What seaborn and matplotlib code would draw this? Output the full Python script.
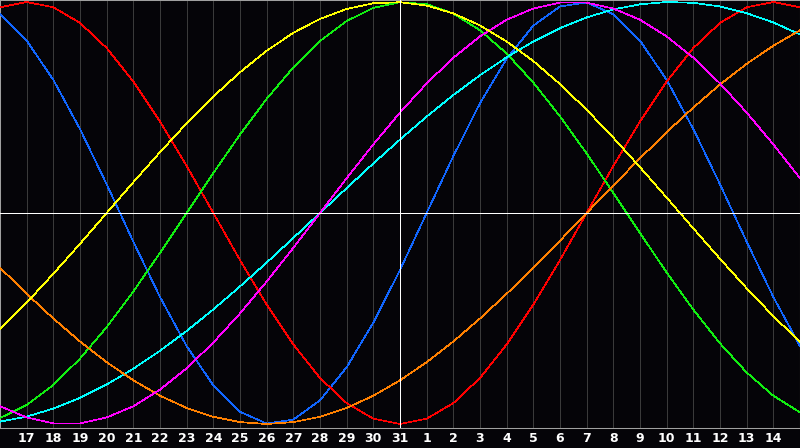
import matplotlib
matplotlib.use("Agg")
import matplotlib.pyplot as plt
import pandas as pd
import seaborn as sns

# Day offsets relative to the marked day (31); -15 and 15 are the plot edges
offsets = list(range(-15, 16))
tick_offsets = list(range(-14, 15))
tick_labels = [str(d) for d in range(17, 32)] + [str(d) for d in range(1, 15)]

# Curve values (range -1 .. 1) at each day
physical = [0.942, 0.817, 0.631, 0.398, 0.136, -0.136, -0.398, -0.631, -0.817, -0.942,
            -0.998, -0.979, -0.888, -0.731, -0.520, -0.270, 0.000, 0.270, 0.520, 0.731,
            0.888, 0.979, 0.998, 0.942, 0.817, 0.631, 0.398, 0.136, -0.136, -0.398, -0.631]
emotional = [0.975, 1.000, 0.975, 0.901, 0.782, 0.623, 0.434, 0.223, 0.000, -0.223,
             -0.434, -0.623, -0.782, -0.901, -0.975, -1.000, -0.975, -0.901, -0.782, -0.623,
             -0.434, -0.223, 0.000, 0.223, 0.434, 0.623, 0.782, 0.901, 0.975, 1.000, 0.975]
intellectual = [-0.972, -0.910, -0.815, -0.690, -0.541, -0.372, -0.189, 0.000, 0.189, 0.372,
                0.541, 0.690, 0.815, 0.910, 0.972, 0.999, 0.990, 0.945, 0.866, 0.756,
                0.618, 0.458, 0.282, 0.095, -0.095, -0.282, -0.458, -0.618, -0.756, -0.866, -0.945]
intuitive = [-0.916, -0.969, -0.997, -0.997, -0.969, -0.916, -0.837, -0.736, -0.614, -0.476,
             -0.325, -0.165, 0.000, 0.165, 0.325, 0.476, 0.614, 0.736, 0.837, 0.916,
             0.969, 0.997, 0.997, 0.969, 0.916, 0.837, 0.736, 0.614, 0.476, 0.325, 0.165]
aesthetic = [-0.552, -0.425, -0.288, -0.146, 0.000, 0.146, 0.288, 0.425, 0.552, 0.667,
             0.769, 0.854, 0.920, 0.967, 0.994, 0.999, 0.983, 0.946, 0.889, 0.813,
             0.720, 0.611, 0.489, 0.357, 0.217, 0.073, -0.073, -0.217, -0.357, -0.489, -0.611]
awareness = [-0.259, -0.383, -0.500, -0.609, -0.707, -0.793, -0.866, -0.924, -0.966, -0.991,
             -1.000, -0.991, -0.966, -0.924, -0.866, -0.793, -0.707, -0.609, -0.500, -0.383,
             -0.259, -0.131, 0.000, 0.131, 0.259, 0.383, 0.500, 0.609, 0.707, 0.793, 0.866]
spiritual = [-0.989, -0.965, -0.927, -0.876, -0.813, -0.738, -0.653, -0.559, -0.457, -0.348,
             -0.235, -0.118, 0.000, 0.118, 0.235, 0.348, 0.457, 0.559, 0.653, 0.738,
             0.813, 0.876, 0.927, 0.965, 0.989, 1.000, 0.996, 0.979, 0.947, 0.903, 0.846]

series = {
    "Physical": physical,
    "Emotional": emotional,
    "Intellectual": intellectual,
    "Spiritual": spiritual,
    "Awareness": awareness,
    "Intuitive": intuitive,
    "Aesthetic": aesthetic,
}
palette = {
    "Physical": "#1166ff",
    "Emotional": "#ff0000",
    "Intellectual": "#11ee11",
    "Intuitive": "#ff00ff",
    "Aesthetic": "#ffff00",
    "Awareness": "#ff8000",
    "Spiritual": "#00ffff",
}

rows = []
for name, vals in series.items():
    for d, v in zip(offsets, vals):
        rows.append({"offset": d, "value": v, "curve": name})
df = pd.DataFrame(rows)

sns.set_style("dark")
bg = "#050408"
fig = plt.figure(figsize=(8.0, 4.48), dpi=100, facecolor=bg)
ax = fig.add_axes([0.0, 20 / 448, 1.0, 428 / 448])
ax.set_facecolor(bg)

ax.set_xticks(tick_offsets)
ax.grid(axis="x", color="#3a3a3a", linewidth=0.5, zorder=0, antialiased=False)
ax.grid(axis="y", visible=False)

sns.lineplot(data=df, x="offset", y="value", hue="curve", palette=palette,
             hue_order=list(series.keys()), legend=False, linewidth=0.5,
             sort=False, ax=ax, zorder=3, antialiased=False)

ax.axhline(0, color="white", linewidth=0.5, zorder=5, antialiased=False)
ax.axvline(0, color="white", linewidth=0.5, zorder=5, antialiased=False)

ax.set_xlim(-15, 15)
ax.set_ylim(-1.019, 1.0095)
ax.set_yticks([])
ax.set_xticklabels(tick_labels, color="white", fontsize=9, fontweight="bold")
ax.tick_params(axis="x", length=0, pad=3)
ax.set_xlabel("")
ax.set_ylabel("")
for s in ax.spines.values():
    s.set_visible(True)
    s.set_color("#a0a0a0")
    s.set_linewidth(0.75)

fig.savefig("out.png", dpi=100, facecolor=bg)
